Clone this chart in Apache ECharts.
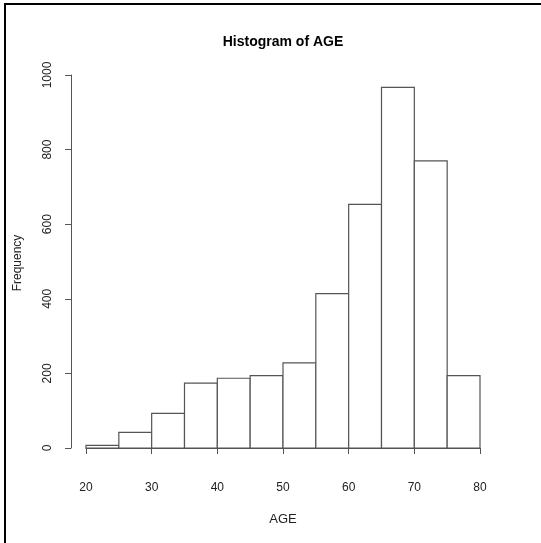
<!DOCTYPE html>
<html>
<head>
<meta charset="utf-8">
<script src="https://cdn.jsdelivr.net/npm/echarts@6/dist/echarts.min.js"></script>
<style>html,body{margin:0;padding:0;background:#fff;}#c{width:541px;height:543px;}</style>
</head>
<body>
<div id="c"></div>
<script>
var binStarts = [20, 25, 30, 35, 40, 45, 50, 55, 60, 65, 70, 75];
var binEnds   = [25, 30, 35, 40, 45, 50, 55, 60, 65, 70, 75, 80];
var counts    = [7, 42, 93, 174, 187, 194, 228, 414, 653, 967, 770, 194];
var titleText = 'Histogram of AGE';
var xLabel = 'AGE';
var yLabel = 'Frequency';

var FONT = '"Liberation Sans", Arial, Helvetica, sans-serif';
var data = binStarts.map(function (s, i) { return [s, binEnds[i], counts[i]]; });

var chart = echarts.init(document.getElementById('c'), null, {renderer: 'canvas'});
chart.setOption({
  animation: false,
  backgroundColor: '#fff',
  grid: {left: 86, right: 61, top: 75, bottom: 95, containLabel: false},
  xAxis: {
    type: 'value', min: 20, max: 80, interval: 10, offset: 17,
    axisLine: {show: true, lineStyle: {color: '#555', width: 1}},
    axisTick: {show: true, inside: false, length: 6, lineStyle: {color: '#555'}},
    axisLabel: {color: '#222', fontFamily: FONT, fontSize: 12, margin: 17, formatter: function (v) { return String(v); }},
    splitLine: {show: false}
  },
  yAxis: {
    type: 'value', min: 0, max: 1000, interval: 200, offset: 15,
    axisLine: {show: true, lineStyle: {color: '#555', width: 1}},
    axisTick: {show: true, inside: false, length: 6, lineStyle: {color: '#555'}},
    axisLabel: {color: '#222', fontFamily: FONT, fontSize: 12, margin: 17, rotate: 90, formatter: function (v) { return String(v); }},
    splitLine: {show: false}
  },
  series: [{
    type: 'custom',
    data: data,
    encode: {x: [0, 1], y: 2},
    renderItem: function (params, api) {
      var p0 = api.coord([api.value(0), 0]);
      var p1 = api.coord([api.value(1), api.value(2)]);
      return {
        type: 'rect',
        shape: {x: p0[0], y: p1[1], width: p1[0] - p0[0], height: p0[1] - p1[1]},
        style: {fill: '#fff', stroke: '#555', lineWidth: 1.2}
      };
    }
  }],
  graphic: [
    {type: 'rect', shape: {x: 5, y: 4, width: 700, height: 700}, style: {fill: 'none', stroke: '#000', lineWidth: 2}, silent: true},
    {type: 'text', x: 283, y: 42, style: {text: titleText, font: 'bold 14px ' + FONT, fill: '#000', textAlign: 'center', textVerticalAlign: 'middle'}},
    {type: 'text', x: 283, y: 519, style: {text: xLabel, font: '13px ' + FONT, fill: '#222', textAlign: 'center', textVerticalAlign: 'middle'}},
    {type: 'text', x: 18, y: 263, rotation: Math.PI / 2, style: {text: yLabel, font: '12px ' + FONT, fill: '#222', textAlign: 'center', textVerticalAlign: 'middle'}}
  ]
});
</script>
</body>
</html>
